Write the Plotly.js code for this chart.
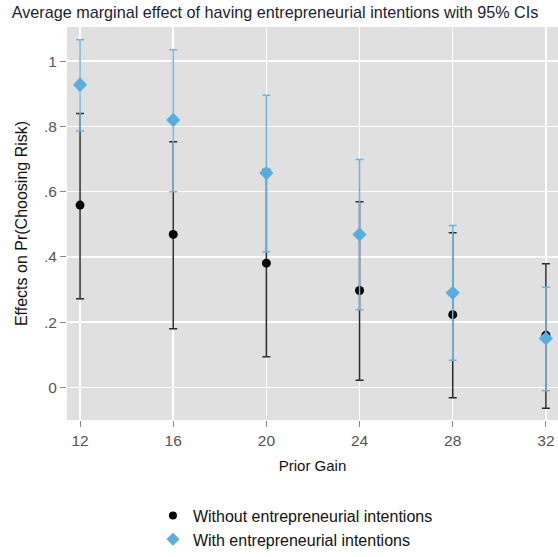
<!DOCTYPE html>
<html>
<head>
<meta charset="utf-8">
<script src="https://cdn.plot.ly/plotly-3.0.1.min.js"></script>
<style>html,body{margin:0;padding:0;background:#fff;}#chart{width:558px;height:557px;}</style>
</head>
<body>
<div id="chart"></div>
<script>
var priorGain = [12, 16, 20, 24, 28, 32];

var withoutEst   = [0.559, 0.469, 0.381, 0.297, 0.223, 0.160];
var withoutLower = [0.272, 0.180, 0.094, 0.022, -0.032, -0.064];
var withoutUpper = [0.840, 0.753, 0.668, 0.569, 0.474, 0.379];

var withEst   = [0.928, 0.820, 0.657, 0.469, 0.290, 0.150];
var withLower = [0.786, 0.600, 0.416, 0.238, 0.083, -0.010];
var withUpper = [1.066, 1.035, 0.896, 0.699, 0.496, 0.307];

var yTickVals = [0, 0.2, 0.4, 0.6, 0.8, 1];
var yTickText = ['0', '.2', '.4', '.6', '.8', '1'];

var seriesNames = ['Without entrepreneurial intentions', 'With entrepreneurial intentions'];

function diff(a, b) { return a.map(function (v, i) { return v - b[i]; }); }

var font = 'Liberation Sans, Arial, Helvetica, sans-serif';
var blackMarker = {symbol: 'circle', size: 9, color: '#000000'};
var blueMarker = {symbol: 'diamond', size: 11, color: '#58aee0'};

var traces = [
  {
    type: 'scatter', mode: 'markers', showlegend: false,
    name: seriesNames[0],
    x: priorGain, y: withoutEst,
    marker: blackMarker,
    error_y: {type: 'data', symmetric: false,
      array: diff(withoutUpper, withoutEst),
      arrayminus: diff(withoutEst, withoutLower),
      color: '#2b2b2b', thickness: 1.5, width: 4}
  },
  {
    type: 'scatter', mode: 'markers', showlegend: false,
    name: seriesNames[1],
    x: priorGain, y: withEst,
    marker: blueMarker,
    error_y: {type: 'data', symmetric: false,
      array: diff(withUpper, withEst),
      arrayminus: diff(withEst, withLower),
      color: '#72b2da', thickness: 1.5, width: 4}
  },
  {type: 'scatter', mode: 'markers', name: seriesNames[0], x: [null], y: [null],
    marker: {symbol: 'circle', size: 8, color: '#000000'}, hoverinfo: 'skip'},
  {type: 'scatter', mode: 'markers', name: seriesNames[1], x: [null], y: [null],
    marker: {symbol: 'diamond', size: 10, color: '#58aee0'}, hoverinfo: 'skip'}
];

var layout = {
  width: 558, height: 557,
  margin: {l: 67, r: 0, t: 27, b: 135},
  paper_bgcolor: '#ffffff',
  plot_bgcolor: '#e0e0e0',
  font: {family: font, size: 15, color: '#000'},
  title: {text: 'Average marginal effect of having entrepreneurial intentions with 95% CIs',
    x: 0.021, xanchor: 'left', xref: 'container', y: 0.978, yanchor: 'middle',
    font: {family: font, size: 16.2, color: '#1c2235'}},
  xaxis: {
    range: [11.44, 32.52],
    tickvals: priorGain, ticktext: priorGain.map(String),
    showgrid: true, gridcolor: '#ffffff', gridwidth: 1.5,
    zeroline: false, showline: false,
    ticks: 'outside', ticklen: 6, tickcolor: '#888', tickwidth: 1,
    tickfont: {family: font, size: 15.5, color: '#555'},
    title: {text: 'Prior Gain', font: {family: font, size: 15, color: '#111'}, standoff: 12}
  },
  yaxis: {
    range: [-0.10, 1.105],
    tickvals: yTickVals, ticktext: yTickText,
    showgrid: true, gridcolor: '#ffffff', gridwidth: 1.5,
    zeroline: false, showline: false,
    ticks: 'outside', ticklen: 6, tickcolor: '#888', tickwidth: 1,
    tickfont: {family: font, size: 15.5, color: '#555'},
    title: {text: 'Effects on Pr(Choosing Risk)', font: {family: font, size: 16, color: '#111'}, standoff: 12}
  },
  showlegend: true,
  legend: {x: 0.175, xanchor: 'left', y: -0.2, yanchor: 'top',
    orientation: 'v', bgcolor: 'rgba(0,0,0,0)',
    font: {family: font, size: 16, color: '#111'}, tracegroupgap: 0}
};

Plotly.newPlot('chart', traces, layout, {displayModeBar: false, staticPlot: true});
</script>
</body>
</html>
